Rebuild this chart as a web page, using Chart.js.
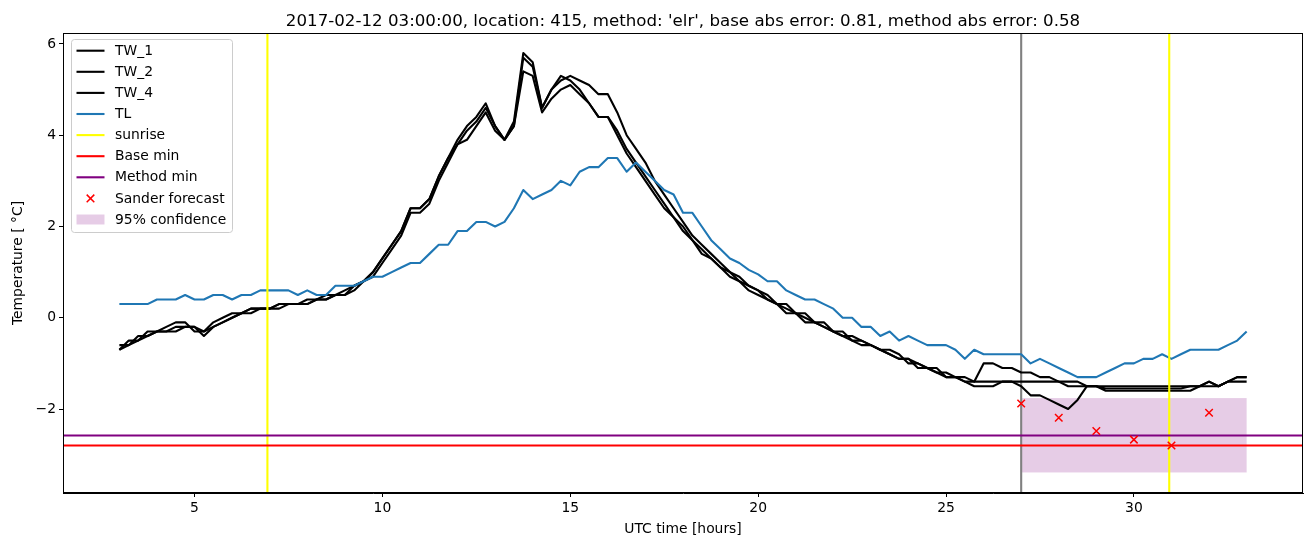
<!DOCTYPE html>
<html><head><meta charset="utf-8">
<script src="https://cdn.jsdelivr.net/npm/chart.js@4.4.1/dist/chart.umd.min.js"></script>
<style>html,body{margin:0;padding:0;background:#fff}#wrap{width:1313px;height:547px}</style>
</head><body><div id="wrap"><canvas id="c" width="1313" height="547"></canvas></div>
<script>
const titleText = "2017-02-12 03:00:00, location: 415, method: 'elr', base abs error: 0.81, method abs error: 0.58";
const hours = [3,3.25,3.5,3.75,4,4.25,4.5,4.75,5,5.25,5.5,5.75,6,6.25,6.5,6.75,7,7.25,7.5,7.75,8,8.25,8.5,8.75,9,9.25,9.5,9.75,10,10.25,10.5,10.75,11,11.25,11.5,11.75,12,12.25,12.5,12.75,13,13.25,13.5,13.75,14,14.25,14.5,14.75,15,15.25,15.5,15.75,16,16.25,16.5,16.75,17,17.25,17.5,17.75,18,18.25,18.5,18.75,19,19.25,19.5,19.75,20,20.25,20.5,20.75,21,21.25,21.5,21.75,22,22.25,22.5,22.75,23,23.25,23.5,23.75,24,24.25,24.5,24.75,25,25.25,25.5,25.75,26,26.25,26.5,26.75,27,27.25,27.5,27.75,28,28.25,28.5,28.75,29,29.25,29.5,29.75,30,30.25,30.5,30.75,31,31.25,31.5,31.75,32,32.25,32.5,32.75,33];
const TW_1 = [-0.6,-0.6,-0.5,-0.4,-0.3,-0.3,-0.2,-0.2,-0.2,-0.3,-0.2,-0.1,0.0,0.1,0.2,0.2,0.2,0.3,0.3,0.3,0.3,0.4,0.5,0.5,0.5,0.7,0.8,1.0,1.3,1.6,1.9,2.4,2.4,2.6,3.1,3.5,3.9,4.2,4.4,4.7,4.2,3.9,4.2,5.7,5.5,4.6,5.0,5.3,5.2,5.0,4.7,4.4,4.4,4.1,3.7,3.4,3.1,2.8,2.5,2.2,2.0,1.7,1.5,1.3,1.1,1.0,0.8,0.7,0.6,0.4,0.3,0.2,0.1,0.0,-0.1,-0.2,-0.3,-0.4,-0.4,-0.5,-0.6,-0.7,-0.8,-0.9,-0.9,-1.0,-1.1,-1.2,-1.2,-1.3,-1.4,-1.4,-1.0,-1.0,-1.1,-1.1,-1.2,-1.2,-1.3,-1.3,-1.4,-1.4,-1.4,-1.5,-1.5,-1.5,-1.5,-1.5,-1.5,-1.5,-1.5,-1.5,-1.5,-1.5,-1.5,-1.5,-1.5,-1.5,-1.4,-1.3,-1.3];
const TW_2 = [-0.7,-0.5,-0.5,-0.3,-0.3,-0.2,-0.1,-0.1,-0.3,-0.3,-0.1,0.0,0.1,0.1,0.2,0.2,0.2,0.3,0.3,0.3,0.4,0.4,0.4,0.5,0.6,0.7,0.8,1.0,1.3,1.6,1.9,2.4,2.4,2.6,3.1,3.5,3.8,4.1,4.3,4.6,4.2,3.9,4.3,5.8,5.6,4.6,5.0,5.2,5.3,5.2,5.1,4.9,4.9,4.5,4.0,3.7,3.4,3.0,2.7,2.4,2.1,1.8,1.6,1.4,1.2,1.0,0.9,0.7,0.6,0.5,0.3,0.3,0.1,0.1,-0.1,-0.1,-0.3,-0.3,-0.5,-0.5,-0.6,-0.7,-0.7,-0.8,-1.0,-1.0,-1.1,-1.1,-1.3,-1.3,-1.3,-1.4,-1.4,-1.4,-1.4,-1.4,-1.4,-1.4,-1.4,-1.4,-1.4,-1.5,-1.5,-1.5,-1.5,-1.55,-1.55,-1.55,-1.55,-1.55,-1.55,-1.55,-1.55,-1.55,-1.5,-1.5,-1.4,-1.5,-1.4,-1.4,-1.4];
const TW_4 = [-0.7,-0.6,-0.4,-0.4,-0.3,-0.3,-0.3,-0.2,-0.2,-0.4,-0.2,-0.1,0.0,0.1,0.1,0.2,0.2,0.2,0.3,0.3,0.3,0.4,0.4,0.5,0.5,0.6,0.8,0.9,1.2,1.5,1.8,2.3,2.3,2.5,3.0,3.4,3.8,3.9,4.2,4.5,4.1,3.9,4.2,5.4,5.3,4.5,4.8,5.0,5.1,4.9,4.7,4.4,4.4,4.0,3.6,3.3,3.0,2.7,2.4,2.2,1.9,1.7,1.4,1.3,1.1,0.9,0.8,0.6,0.5,0.4,0.3,0.1,0.1,-0.1,-0.1,-0.2,-0.3,-0.4,-0.5,-0.6,-0.6,-0.7,-0.8,-0.9,-0.9,-1.1,-1.1,-1.2,-1.3,-1.3,-1.4,-1.5,-1.5,-1.5,-1.4,-1.4,-1.5,-1.7,-1.7,-1.8,-1.9,-2.0,-1.8,-1.5,-1.5,-1.6,-1.6,-1.6,-1.6,-1.6,-1.6,-1.6,-1.6,-1.6,-1.6,-1.5,-1.4,-1.5,-1.4,-1.3,-1.3];
const TL = [0.3,0.3,0.3,0.3,0.4,0.4,0.4,0.5,0.4,0.4,0.5,0.5,0.4,0.5,0.5,0.6,0.6,0.6,0.6,0.5,0.6,0.5,0.5,0.7,0.7,0.7,0.8,0.9,0.9,1.0,1.1,1.2,1.2,1.4,1.6,1.6,1.9,1.9,2.1,2.1,2.0,2.1,2.4,2.8,2.6,2.7,2.8,3.0,2.9,3.2,3.3,3.3,3.5,3.5,3.2,3.4,3.2,3.0,2.8,2.7,2.3,2.3,2.0,1.7,1.5,1.3,1.2,1.05,0.95,0.8,0.8,0.6,0.5,0.4,0.4,0.3,0.2,0.0,0.0,-0.2,-0.2,-0.4,-0.3,-0.5,-0.4,-0.5,-0.6,-0.6,-0.6,-0.7,-0.9,-0.7,-0.8,-0.8,-0.8,-0.8,-0.8,-1.0,-0.9,-1.0,-1.1,-1.2,-1.3,-1.3,-1.3,-1.2,-1.1,-1.0,-1.0,-0.9,-0.9,-0.8,-0.9,-0.8,-0.7,-0.7,-0.7,-0.7,-0.6,-0.5,-0.3];
const sunrise = [6.94, 30.94];
const forecastTime = 27;
const baseMin = -2.80;
const methodMin = -2.58;
const sanderHours = [27, 28, 29, 30, 31, 32];
const sanderValues = [-1.88, -2.19, -2.48, -2.67, -2.80, -2.08];
const ciHours = [27, 33];
const ciRange = [-3.39, -1.76];
const xTicks = [5, 10, 15, 20, 25, 30];
const yTicks = [-2, 0, 2, 4, 6];
const xRange = [1.5, 34.5];
const yRange = [-3.84, 6.24];

const FONT = "'DejaVu Sans', sans-serif";
const LW = 2.1;
const pts = arr => hours.map((h, i) => ({x: h, y: arr[i]}));
const lineDs = (label, arr, color, order) => ({
  type: 'line', label, data: pts(arr), borderColor: color, backgroundColor: color,
  borderWidth: LW, pointRadius: 0, tension: 0, fill: false, order,
  borderJoinStyle: 'round', borderCapStyle: 'butt'
});
const fmt = v => String(v).replace('-', '\u2212');

const refLines = {
  id: 'refLines',
  beforeDatasetsDraw(chart) {
    const {ctx, chartArea: a, scales: {x, y}} = chart;
    ctx.save();
    ctx.beginPath(); ctx.rect(a.left, a.top, a.right - a.left, a.bottom - a.top); ctx.clip();
    const x0 = x.getPixelForValue(ciHours[0]), x1 = x.getPixelForValue(ciHours[1]);
    const y0 = y.getPixelForValue(ciRange[1]), y1 = y.getPixelForValue(ciRange[0]);
    ctx.fillStyle = 'rgba(128,0,128,0.2)';
    ctx.fillRect(x0, y0, x1 - x0, y1 - y0);
    ctx.strokeStyle = '#808080'; ctx.lineWidth = LW;
    const gx = x.getPixelForValue(forecastTime);
    ctx.beginPath(); ctx.moveTo(gx, a.top); ctx.lineTo(gx, a.bottom); ctx.stroke();
    ctx.restore();
  },
  afterDatasetDraw(chart, args) {
    if (chart.data.datasets[args.index].label !== 'TL') return;
    const {ctx, chartArea: a, scales: {x, y}} = chart;
    ctx.save();
    ctx.beginPath(); ctx.rect(a.left, a.top, a.right - a.left, a.bottom - a.top); ctx.clip();
    ctx.lineWidth = LW;
    ctx.strokeStyle = '#ffff00';
    sunrise.forEach(s => { const px = x.getPixelForValue(s); ctx.beginPath(); ctx.moveTo(px, a.top); ctx.lineTo(px, a.bottom); ctx.stroke(); });
    [[baseMin, '#ff0000'], [methodMin, '#800080']].forEach(([v, c]) => {
      const py = y.getPixelForValue(v);
      ctx.strokeStyle = c; ctx.beginPath(); ctx.moveTo(a.left, py); ctx.lineTo(a.right, py); ctx.stroke();
    });
    ctx.restore();
  },
  afterDraw(chart) {
    const {ctx, chartArea: a} = chart;
    ctx.save();
    ctx.strokeStyle = '#000'; ctx.lineWidth = 1;
    ctx.strokeRect(Math.round(a.left) + 0.5, Math.round(a.top) + 0.5, Math.round(a.right - a.left) - 1, Math.round(a.bottom - a.top) - 1);
    // title
    ctx.fillStyle = '#000'; ctx.font = "16.67px " + FONT; ctx.textAlign = 'center'; ctx.textBaseline = 'alphabetic';
    ctx.fillText(titleText, (a.left + a.right) / 2, a.top - 7);
    // legend
    const items = [
      ['TW_1', 'line', '#000000'], ['TW_2', 'line', '#000000'], ['TW_4', 'line', '#000000'],
      ['TL', 'line', '#1f77b4'], ['sunrise', 'line', '#ffff00'], ['Base min', 'line', '#ff0000'],
      ['Method min', 'line', '#800080'], ['Sander forecast', 'x', '#ff0000'], ['95% confidence', 'patch', 'rgba(128,0,128,0.2)']
    ];
    const bx = a.left + 8.5, by = a.top + 6.5, bw = 161, bh = 193, r = 3;
    ctx.beginPath();
    ctx.moveTo(bx + r, by); ctx.lineTo(bx + bw - r, by); ctx.arcTo(bx + bw, by, bx + bw, by + r, r);
    ctx.lineTo(bx + bw, by + bh - r); ctx.arcTo(bx + bw, by + bh, bx + bw - r, by + bh, r);
    ctx.lineTo(bx + r, by + bh); ctx.arcTo(bx, by + bh, bx, by + bh - r, r);
    ctx.lineTo(bx, by + r); ctx.arcTo(bx, by, bx + r, by, r); ctx.closePath();
    ctx.fillStyle = 'rgba(255,255,255,0.8)'; ctx.fill();
    ctx.strokeStyle = '#cccccc'; ctx.lineWidth = 1; ctx.stroke();
    ctx.font = "13.89px " + FONT; ctx.textAlign = 'left'; ctx.textBaseline = 'middle';
    items.forEach(([label, kind, color], i) => {
      const cy = a.top + 17.7 + i * 21.1;
      const hx0 = bx + 5, hx1 = bx + 33;
      if (kind === 'line') {
        ctx.strokeStyle = color; ctx.lineWidth = LW;
        ctx.beginPath(); ctx.moveTo(hx0, cy); ctx.lineTo(hx1, cy); ctx.stroke();
      } else if (kind === 'x') {
        const cx = (hx0 + hx1) / 2, s = 3.8;
        ctx.strokeStyle = color; ctx.lineWidth = 1.5;
        ctx.beginPath(); ctx.moveTo(cx - s, cy - s); ctx.lineTo(cx + s, cy + s);
        ctx.moveTo(cx - s, cy + s); ctx.lineTo(cx + s, cy - s); ctx.stroke();
      } else {
        ctx.fillStyle = color; ctx.fillRect(hx0, cy - 5, hx1 - hx0, 10);
      }
      ctx.fillStyle = '#000';
      ctx.fillText(label, bx + 43.5, cy + 0.5);
    });
    ctx.restore();
  }
};

new Chart(document.getElementById('c'), {
  data: {
    datasets: [
      lineDs('TW_1', TW_1, '#000000', 5),
      lineDs('TW_2', TW_2, '#000000', 4),
      lineDs('TW_4', TW_4, '#000000', 3),
      lineDs('TL', TL, '#1f77b4', 2),
      {
        type: 'scatter', label: 'Sander forecast',
        data: sanderHours.map((h, i) => ({x: h, y: sanderValues[i]})),
        pointStyle: 'crossRot', pointRadius: 5.3, borderColor: '#ff0000', backgroundColor: '#ff0000',
        borderWidth: 1.5, order: 1
      }
    ]
  },
  options: {
    responsive: false, animation: false, devicePixelRatio: 1,
    layout: {padding: {left: 0, right: 10, top: 33, bottom: 0}},
    plugins: {legend: {display: false}, tooltip: {enabled: false}, title: {display: false}},
    scales: {
      x: {
        type: 'linear', min: xRange[0], max: xRange[1],
        afterBuildTicks: s => { s.ticks = xTicks.map(v => ({value: v})); },
        afterFit: s => { s.height = 54; },
        grid: {drawOnChartArea: false, drawTicks: true, tickLength: 4, color: '#000'},
        border: {display: true, color: '#000', width: 1},
        ticks: {color: '#000', font: {family: FONT, size: 13.89}, padding: 3, maxRotation: 0, callback: v => fmt(v)},
        title: {display: true, text: 'UTC time [hours]', color: '#000', font: {family: FONT, size: 13.89}, padding: {top: 0, bottom: 9}}
      },
      y: {
        type: 'linear', min: yRange[0], max: yRange[1],
        afterBuildTicks: s => { s.ticks = yTicks.map(v => ({value: v})); },
        afterFit: s => { s.width = 63; },
        grid: {drawOnChartArea: false, drawTicks: true, tickLength: 4, color: '#000'},
        border: {display: true, color: '#000', width: 1},
        ticks: {color: '#000', font: {family: FONT, size: 13.89}, padding: 3, callback: v => fmt(v)},
        title: {display: true, text: 'Temperature [ °C]', color: '#000', font: {family: FONT, size: 13.89}, padding: {top: 10, bottom: 0}}
      }
    }
  },
  plugins: [refLines]
});
</script></body></html>
